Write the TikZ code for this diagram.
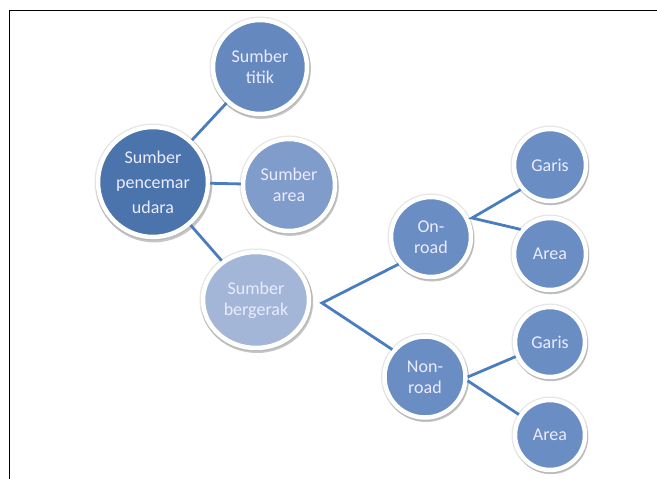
\documentclass[tikz,border=0pt]{standalone}
\usepackage{fontspec}
\setmainfont{Carlito}
\usepackage{tikz}
\usetikzlibrary{shadows,shapes.geometric}
\definecolor{blueroot}{HTML}{4A74AB}
\definecolor{bluemid}{HTML}{6589BF}
\definecolor{bluearea}{HTML}{809CCB}
\definecolor{bluelight}{HTML}{A3B6D8}
\definecolor{blueleaf}{HTML}{6A8EC4}
\definecolor{blueline}{HTML}{4A7DBF}

\begin{document}
\begin{tikzpicture}[x=1pt,y=-1pt,
	bubble/.style={circle,draw=white,line width=4.5pt,text=white!92!blue,align=center,
		font=\fontsize{18}{21}\selectfont,inner sep=0pt,
		preaction={draw=black!10,line width=7pt},
		drop shadow={shadow xshift=1pt,shadow yshift=-2pt,shadow scale=1.06,opacity=0.45,fill=black!50}},
	link/.style={draw=blueline,line width=2.8pt}]
		%%%%% START %%%%%
		
		\useasboundingbox (0,0) rectangle (657,479);
		\draw[line width=1pt] (9,479) -- (9,10) -- (657,10);
		
		\node[bubble,fill=bluemid,minimum size=94pt] (titik) at (260,67) {Sumber\\titik};
		\node[bubble,fill=blueroot,minimum size=110pt,font=\fontsize{18}{25}\selectfont] (udara) at (153,182) {Sumber\\pencemar\\udara};
		\node[bubble,fill=bluearea,minimum size=92pt] (area) at (289,185) {Sumber\\area};
		\node[bubble,fill=bluelight,ellipse,minimum width=106pt,minimum height=96pt] (gerak) at (256,300) {Sumber\\bergerak};
		
		\node[bubble,fill=blueleaf,minimum size=80pt] (onroad) at (431,237) {On-\\road};
		\node[bubble,fill=blueleaf,minimum size=81pt] (nonroad) at (425,377) {Non-\\road};
		
		\node[bubble,fill=blueleaf,minimum size=72pt] (garis1) at (550,165) {Garis};
		\node[bubble,fill=blueleaf,minimum size=72pt] (area1) at (550,254) {Area};
		\node[bubble,fill=blueleaf,minimum size=70pt] (garis2) at (550,342) {Garis};
		\node[bubble,fill=blueleaf,minimum size=70pt] (area2) at (550,435) {Area};
		
		\coordinate (g) at (322,303);
		\coordinate (o) at (472,218);
		
		\draw[link] (udara) -- (titik);
		\draw[link] (udara) -- (area);
		\draw[link] (udara) -- (gerak);
		\draw[link] (onroad.-140) -- (g) -- (nonroad.140);
		\draw[link] (garis1.-140) -- (o) -- (area1.140);
		\draw[link] (garis2) -- (nonroad.east);
		\draw[link] (area2) -- (nonroad.-5);
		
		%%%%% END %%%%%
	\end{tikzpicture}
\end{document}
